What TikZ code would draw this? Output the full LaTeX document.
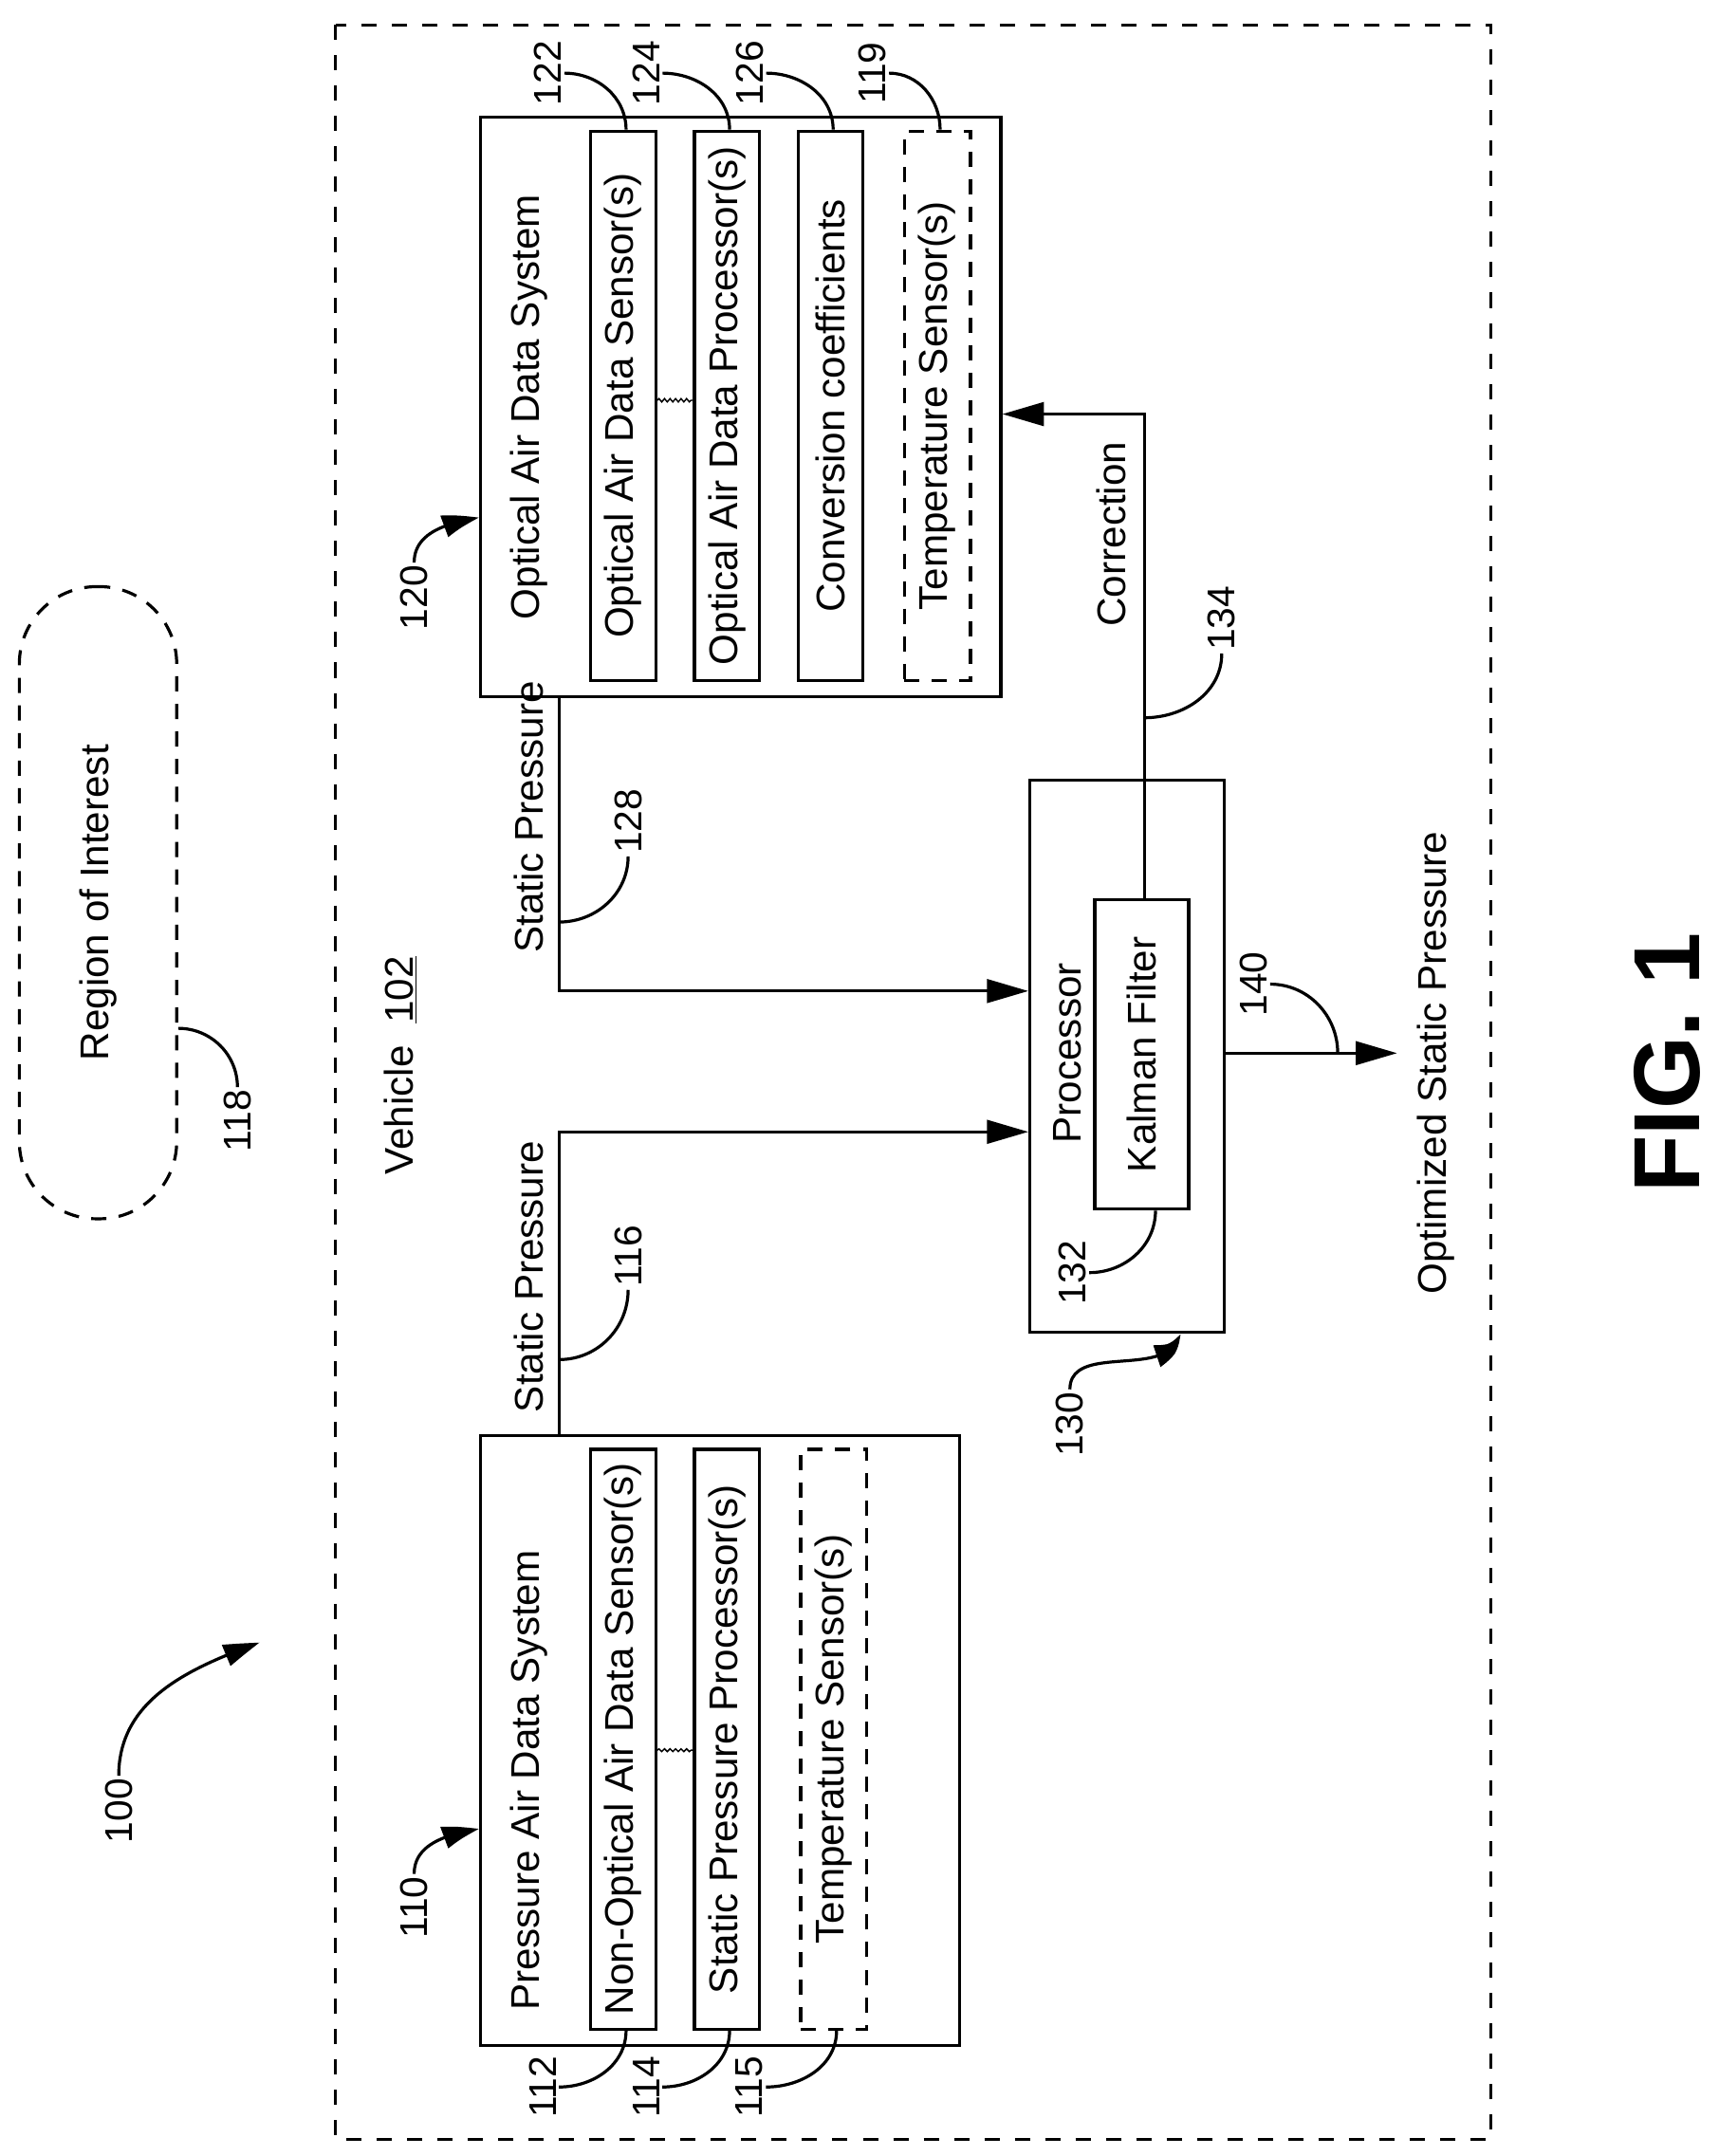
\documentclass[tikz,border=0pt]{standalone}
\usepackage{fontspec}
\setmainfont{Liberation Sans}
\usetikzlibrary{arrows.meta,bending,decorations.pathmorphing,calc}

\begin{document}
\begin{tikzpicture}[x=1pt, y=-1pt, line width=2.2pt,
    box/.style = {draw, inner sep=0pt, font=\fontsize{29}{34}\selectfont},
    dbox/.style = {box, dash pattern=on 11pt off 9pt},
    txt/.style = {rotate=90, font=\fontsize{29}{34}\selectfont, inner sep=1pt},
    lab/.style = {rotate=90, font=\fontsize{28}{32}\selectfont, inner sep=1pt},
    a/.style = {-{Triangle[length=30pt, width=17pt]}},
    c/.style = {-{Triangle[length=26pt, width=16pt, bend]}}]
  \useasboundingbox (0,0) rectangle (1245,1562);

  % region and vehicle
  \draw [dash pattern=on 11pt off 11pt] (243,18) rectangle (1080,1550);
  \node [dbox, rounded corners=56pt, minimum width=114pt, minimum height=458pt] (roi) at (71,654) {\rotatebox{90}{Region of Interest}};
  \node [lab] (l118) at (172,812) {118};
  \draw (roi.east |- 0,745) to [out=0, in=90] (l118.east);
  \node [txt] (veh) at (290,772) {Vehicle\ \ \underline{102}};
  \node [lab] (l100) at (86,1312) {100};
  \draw [c] (l100.east) to [out=90, in=200] (188,1190);

  % optical air data system
  \node [box, minimum width=377pt, minimum height=420pt] (opt) at (536.5,295) {};
  \node [txt] at (383,295) {Optical Air Data System};
  \node [box, minimum width=47pt, minimum height=398pt] (s122) at (451.5,294) {\rotatebox{90}{Optical Air Data Sensor(s)}};
  \node [box, minimum width=47pt, minimum height=398pt] (s124) at (526.5,294) {\rotatebox{90}{Optical Air Data Processor(s)}};
  \node [box, minimum width=47pt, minimum height=398pt] (s126) at (601.5,294) {\rotatebox{90}{Conversion coefficients}};
  \node [dbox, minimum width=48pt, minimum height=398pt] (s119) at (679,294) {\rotatebox{90}{Temperature Sensor(s)}};
  \draw [line width=1pt, decorate, decoration={snake, amplitude=1.2pt, segment length=4pt}] (s122.east |- 0,290) -- (s124.west |- 0,290);
  \foreach \n/\t/\x in {122/s122/397, 124/s124/468, 126/s126/543, 119/s119/632} {
    \node [lab] (l\n) at (\x,53) {\n};
    \draw (l\n.south) to [out=0, in=90] ([xshift=2pt]\t.north);
  }
  \node [lab] (l120) at (300,433) {120};
  \draw [c] (l120.east) to [out=90, in=190] (opt.west |- 0,375);

  % pressure air data system
  \node [box, minimum width=347pt, minimum height=442pt] (prs) at (521.5,1261) {};
  \node [txt] at (383,1290) {Pressure Air Data System};
  \node [box, minimum width=47pt, minimum height=420pt] (s112) at (451.5,1260) {\rotatebox{90}{Non-Optical Air Data Sensor(s)}};
  \node [box, minimum width=47pt, minimum height=420pt] (s114) at (526.5,1260) {\rotatebox{90}{Static Pressure Processor(s)}};
  \node [dbox, minimum width=48pt, minimum height=420pt] (s115) at (604,1260) {\rotatebox{90}{Temperature Sensor(s)}};
  \draw [line width=1pt, decorate, decoration={snake, amplitude=1pt, segment length=4pt}] (s112.east |- 0,1268) -- (s114.west |- 0,1268);
  \foreach \n/\t/\x in {112/s112/393, 114/s114/468, 115/s115/543} {
    \node [lab] (l\n) at (\x,1512) {\n};
    \draw (l\n.south) to [out=0, in=-90] ([xshift=2pt]\t.south);
  }
  \node [lab] (l110) at (300,1382) {110};
  \draw [c] (l110.east) to [out=90, in=190] (prs.west |- 0,1325);

  % processor
  \node [box, minimum width=141pt, minimum height=400pt] (proc) at (816.5,765) {};
  \node [txt] at (773,763) {Processor};
  \node [box, minimum width=68pt, minimum height=224pt] (kal) at (827,764) {\rotatebox{90}{Kalman Filter}};
  \node [lab] (l132) at (777,922) {132};
  \draw (l132.south) to [out=0, in=-90] ([xshift=10pt]kal.south);
  \node [lab] (l130) at (775,1032) {130};
  \draw [c] (l130.east) to [out=90, in=-100] ([xshift=38pt]proc.south);

  % signals
  \coordinate (sp1) at (405,718);
  \coordinate (sp2) at (405,820);
  \draw [a] (opt.south -| sp1) -- (sp1) -- (proc.west |- sp1);
  \draw [a] (prs.north -| sp2) -- (sp2) -- (proc.west |- sp2);
  \node [txt] at (383,592) {Static Pressure};
  \node [txt] at (383,925) {Static Pressure};
  \node [lab] (l128) at (455,595) {128};
  \draw (405,668) to [out=0, in=-90] (l128.west);
  \node [lab] (l116) at (455,910) {116};
  \draw (405,985) to [out=0, in=-90] (l116.west);

  \coordinate (cr) at (kal.north -| 829,0);
  \draw [a] (cr) |- (opt.east |- 0,300);
  \node [txt] at (805,387) {Correction};
  \node [lab] (l134) at (885,448) {134};
  \draw (829,520) to [out=0, in=-90] (l134.west);

  \coordinate (out) at (1012,763);
  \draw [a] (proc.east |- out) -- (out);
  \node [txt] at (1040,770) {Optimized Static Pressure};
  \node [lab] (l140) at (908,713) {140};
  \draw (l140.south) to [out=0, in=90] (969,763);

  \node [rotate=90, font=\fontsize{68}{72}\selectfont\bfseries] at (1208,770) {FIG. 1};
\end{tikzpicture}
\end{document}
